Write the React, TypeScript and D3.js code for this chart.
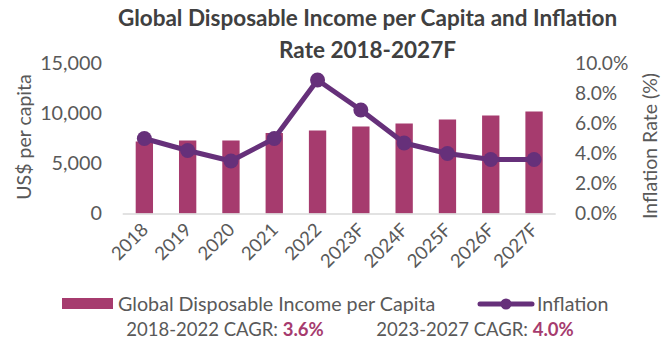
import React from "react";
import * as d3 from "d3";

const years = ["2018", "2019", "2020", "2021", "2022", "2023F", "2024F", "2025F", "2026F", "2027F"];
const incomePerCapita = [7200, 7300, 7300, 8050, 8300, 8700, 9000, 9400, 9800, 10200];
const inflation = [5.0, 4.2, 3.5, 5.0, 8.9, 6.9, 4.7, 4.0, 3.6, 3.6];
const leftTicks = [0, 5000, 10000, 15000];
const rightTicks = [0, 2, 4, 6, 8, 10];
const titleLines = ["Global Disposable Income per Capita and Inflation", "Rate 2018-2027F"];
const cagrLabels = [
  { label: "2018-2022 CAGR: ", value: "3.6%" },
  { label: "2023-2027 CAGR: ", value: "4.0%" },
];

const W = 662;
const H = 340;
const BAR = "#A63B6E";
const LINE = "#66307A";
const TXT = "#595959";
const FONT = "Lato, 'Open Sans', sans-serif";

export default function App() {
  const x = d3.scaleBand<string>().domain(years).range([122.7, 555.7]).paddingInner(0.6).paddingOuter(0.3);
  const yL = d3.scaleLinear().domain([0, 15000]).range([213.5, 63.5]);
  const yR = d3.scaleLinear().domain([0, 10]).range([213.5, 63.5]);
  const cx = (d: string) => (x(d) as number) + x.bandwidth() / 2;
  const line = d3
    .line<number>()
    .x((_, i) => cx(years[i]))
    .y((d) => yR(d));
  const fmtL = d3.format(",");
  const fmtR = (v: number) => v.toFixed(1) + "%";

  return (
    <svg width={W} height={H} style={{ position: "absolute", left: 0, top: 0, background: "#fff" }} fontFamily={FONT}>
      {titleLines.map((t, i) => (
        <text key={t} x={367.5} y={26 + i * 32} textAnchor="middle" fontSize={22.5} fontWeight="bold" fill="#404040">
          {t}
        </text>
      ))}
      {/* left axis */}
      {leftTicks.map((t) => (
        <text key={t} x={102} y={yL(t)} dy="0.35em" textAnchor="end" fontSize={19.8} fill={TXT}>
          {fmtL(t)}
        </text>
      ))}
      <text transform="translate(31,137) rotate(-90)" textAnchor="middle" fontSize={19.5} fill={TXT}>
        US$ per capita
      </text>
      {/* right axis */}
      {rightTicks.map((t) => (
        <text key={t} x={575} y={yR(t)} dy="0.35em" textAnchor="start" fontSize={19.2} fill={TXT}>
          {fmtR(t)}
        </text>
      ))}
      <text transform="translate(657,146) rotate(-90)" textAnchor="middle" fontSize={19.5} fill={TXT}>
        Inflation Rate (%)
      </text>
      {/* bars */}
      {years.map((y, i) => (
        <rect key={y} x={x(y)} y={yL(incomePerCapita[i])} width={x.bandwidth()} height={yL(0) - yL(incomePerCapita[i])} fill={BAR} />
      ))}
      <line x1={122.7} x2={555.7} y1={yL(0) + 0.5} y2={yL(0) + 0.5} stroke="#d9d9d9" strokeWidth={1.5} />
      {/* x labels */}
      {years.map((y) => (
        <text key={y} transform={`translate(${cx(y) + 5},${231}) rotate(-45)`} textAnchor="end" fontSize={18.5} fill={TXT}>
          {y}
        </text>
      ))}
      {/* line */}
      <path d={line(inflation) || ""} fill="none" stroke={LINE} strokeWidth={5} strokeLinejoin="round" />
      {inflation.map((v, i) => (
        <circle key={i} cx={cx(years[i])} cy={yR(v)} r={7.5} fill={LINE} />
      ))}
      {/* legend */}
      <rect x={62} y={298} width={51} height={11} fill={BAR} />
      <text x={118} y={304} dy="0.35em" fontSize={19.7} fill={TXT}>
        Global Disposable Income per Capita
      </text>
      <line x1={480} x2={532} y1={304} y2={304} stroke={LINE} strokeWidth={5} strokeLinecap="round" />
      <circle cx={506} cy={304} r={5.5} fill={LINE} />
      <text x={537} y={304} dy="0.35em" fontSize={19.6} fill={TXT}>
        Inflation
      </text>
      {cagrLabels.map((c, i) => (
        <text key={i} x={i === 0 ? 225 : 475} y={330} dy="0.35em" textAnchor="middle" fontSize={18.5} fill={TXT}>
          {c.label}
          <tspan fill={BAR} fontWeight="bold">
            {c.value}
          </tspan>
        </text>
      ))}
    </svg>
  );
}
